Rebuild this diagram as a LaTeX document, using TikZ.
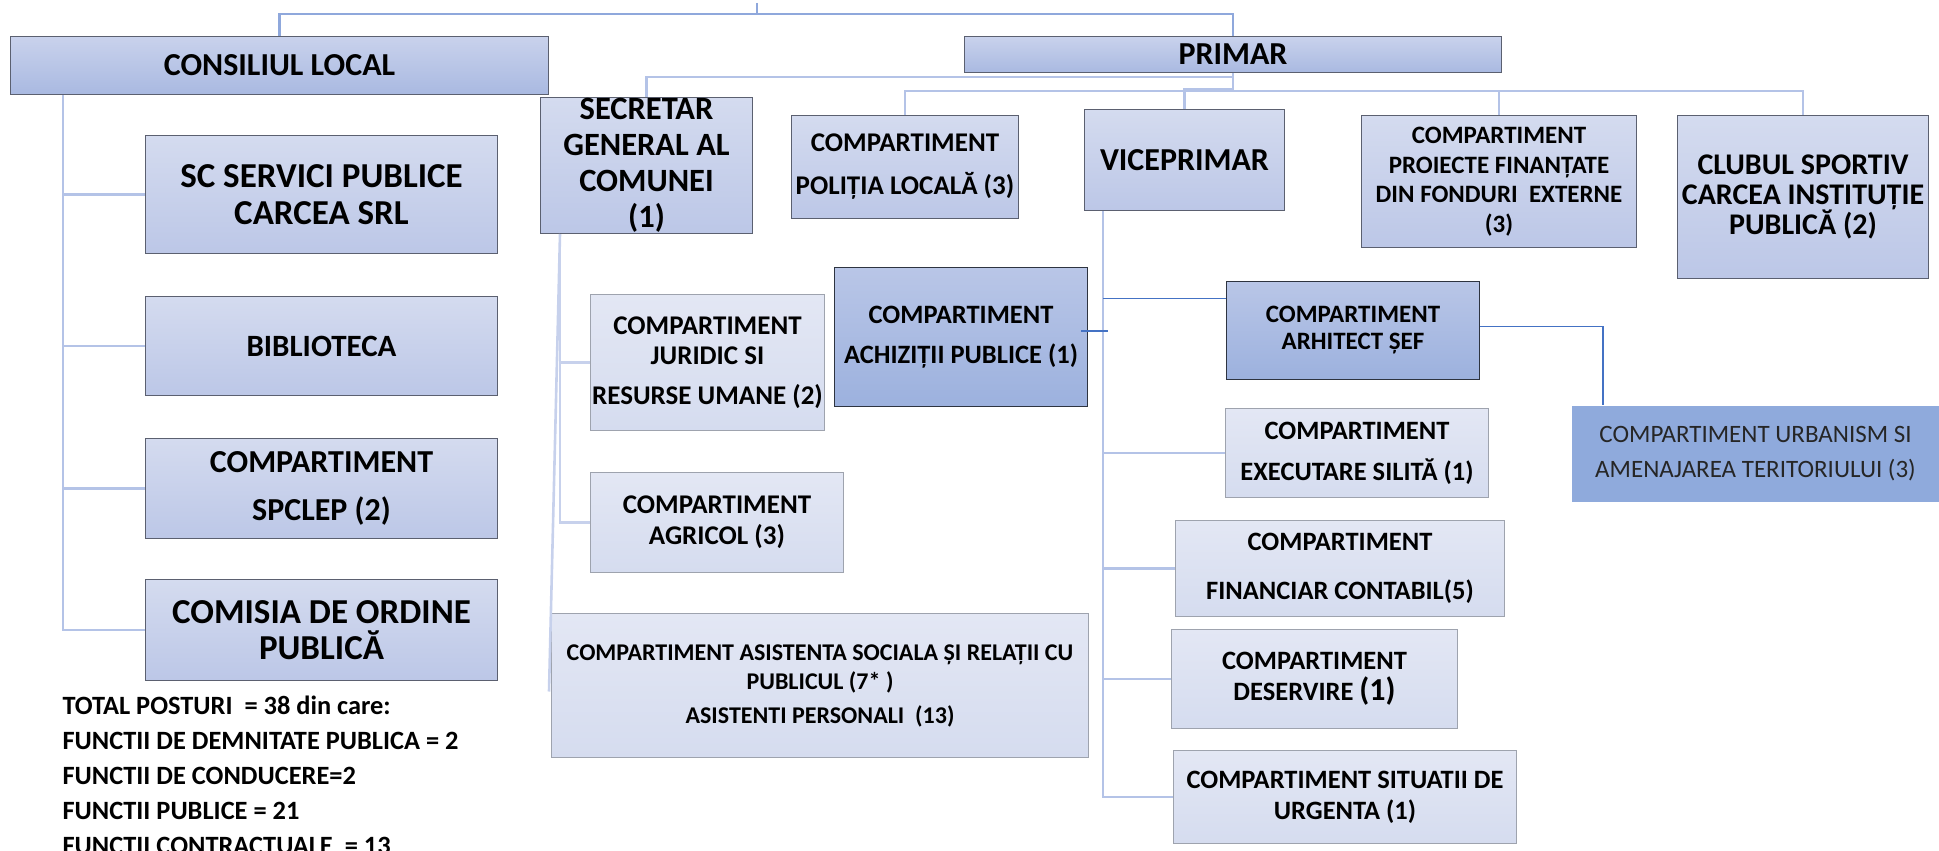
\documentclass[tikz,border=0pt]{standalone}
\usepackage{fontspec}
\setmainfont{Carlito}
\usepackage{xcolor}
\usetikzlibrary{positioning,calc}

\definecolor{headtop}{HTML}{C9D2EC}
\definecolor{headbot}{HTML}{A9B9E1}
\definecolor{midtop}{HTML}{D4DBEF}
\definecolor{midbot}{HTML}{BCC7E7}
\definecolor{paletop}{HTML}{E3E7F4}
\definecolor{palebot}{HTML}{D5DCEF}
\definecolor{deeptop}{HTML}{B9C6E7}
\definecolor{deepbot}{HTML}{9CB1DE}
\definecolor{urbfill}{HTML}{8FAADC}
\definecolor{edgedark}{HTML}{5B6070}
\definecolor{edgepale}{HTML}{9EA3AE}
\definecolor{edgedeep}{HTML}{2E3440}
\definecolor{linkblue}{HTML}{B4C3E7}
\definecolor{palelink}{HTML}{C7D1EC}
\definecolor{toplink}{HTML}{8FA8DC}
\definecolor{finelink}{HTML}{4472C4}

\tikzset{
  unit/.style={anchor=north west, inner sep=0pt, align=center, line width=1pt},
  headbox/.style={unit, draw=edgedark, top color=headtop, bottom color=headbot},
  midbox/.style={unit, draw=edgedark, top color=midtop, bottom color=midbot},
  palebox/.style={unit, draw=edgepale, top color=paletop, bottom color=palebot},
  deepbox/.style={unit, draw=edgedeep, top color=deeptop, bottom color=deepbot},
  bigtxt/.style={font=\bfseries\fontsize{32}{36}\selectfont},
  midtxt/.style={font=\bfseries\fontsize{26.5}{31}\selectfont},
  smalltxt/.style={font=\bfseries\fontsize{25}{27}\selectfont},
  link/.style={linkblue, line width=2.6pt},
  softlink/.style={palelink, line width=2.6pt},
  crown/.style={toplink, line width=2.6pt},
  fine/.style={finelink, line width=1.3pt}
}

\begin{document}
\begin{tikzpicture}[x=1pt, y=-1pt]
    \useasboundingbox (0,0) rectangle (1939,851);

    % Top level
    \node[headbox, bigtxt, minimum width=538pt, minimum height=58pt] (cons) at (10,36) {CONSILIUL LOCAL};
    \node[headbox, bigtxt, minimum width=537pt, minimum height=36pt] (primar) at (964,36) {PRIMAR};

    % Consiliul local
    \node[midbox, font=\bfseries\fontsize{35}{37}\selectfont, minimum width=352pt, minimum height=118pt] (scs) at (145,135) {SC SERVICI PUBLICE\\CARCEA SRL};
    \node[midbox, font=\bfseries\fontsize{31}{36}\selectfont, minimum width=352pt, minimum height=99pt] (bib) at (145,296) {BIBLIOTECA};
    \node[midbox, bigtxt, minimum width=352pt, minimum height=100pt] (spclep) at (145,438) {COMPARTIMENT\\[12pt]SPCLEP (2)};
    \node[midbox, font=\bfseries\fontsize{35}{36}\selectfont, minimum width=352pt, minimum height=101pt] (comisia) at (145,579) {COMISIA DE ORDINE\\PUBLICĂ};

    \node[unit, align=left, font=\bfseries\fontsize{26.4}{35.2}\selectfont] (total) at (62,695) {TOTAL POSTURI\ \ = 38 din care:\\FUNCTII DE DEMNITATE PUBLICA = 2\\FUNCTII DE CONDUCERE=2\\FUNCTII PUBLICE = 21\\FUNCTII CONTRACTUALE\ \ = 13};

    % Primar
    \node[midbox, font=\bfseries\fontsize{32.5}{36}\selectfont, minimum width=212pt, minimum height=136pt] (secr) at (540,97) {SECRETAR\\GENERAL AL\\COMUNEI\\(1)};
    \node[midbox, font=\bfseries\fontsize{27}{32}\selectfont, minimum width=227pt, minimum height=103pt] (polit) at (791,115) {COMPARTIMENT\\[11pt]POLIȚIA LOCALĂ (3)};
    \node[midbox, bigtxt, minimum width=200pt, minimum height=101pt] (vice) at (1084,109) {VICEPRIMAR};
    \node[midbox, font=\bfseries\fontsize{25}{29.5}\selectfont, minimum width=275pt, minimum height=132pt] (proj) at (1361,115) {COMPARTIMENT\\PROIECTE FINANȚATE\\DIN FONDURI\ \ EXTERNE\\(3)};
    \node[midbox, font=\bfseries\fontsize{30}{30}\selectfont, minimum width=251pt, minimum height=163pt] (clubul) at (1677,115) {CLUBUL SPORTIV\\CARCEA INSTITUȚIE\\PUBLICĂ (2)};

    % Secretar
    \node[palebox, font=\bfseries\fontsize{27}{30}\selectfont, minimum width=234pt, minimum height=136pt] (jur) at (590,294) {COMPARTIMENT\\JURIDIC SI\\[10pt]RESURSE UMANE (2)};
    \node[palebox, font=\bfseries\fontsize{27}{31}\selectfont, minimum width=253pt, minimum height=100pt] (agric) at (590,472) {COMPARTIMENT\\AGRICOL (3)};
    \node[deepbox, midtxt, minimum width=253pt, minimum height=139pt] (achiz) at (834,267) {COMPARTIMENT\\[9pt]ACHIZIȚII PUBLICE (1)};
    \node[palebox, font=\bfseries\fontsize{24}{29}\selectfont, minimum width=537pt, minimum height=144pt] (asist) at (551,613) {COMPARTIMENT ASISTENTA SOCIALA ȘI RELAȚII CU\\PUBLICUL (7* )\\[5pt]ASISTENTI PERSONALI\ \ (13)};

    % Viceprimar
    \node[deepbox, smalltxt, minimum width=253pt, minimum height=98pt] (arh) at (1226,281) {COMPARTIMENT\\ARHITECT ȘEF};
    \node[palebox, midtxt, minimum width=263pt, minimum height=89pt] (exec) at (1225,408) {COMPARTIMENT\\[10pt]EXECUTARE SILITĂ (1)};
    \node[palebox, midtxt, minimum width=329pt, minimum height=96pt] (fin) at (1175,520) {COMPARTIMENT\\[18pt]FINANCIAR CONTABIL(5)};
    \node[palebox, midtxt, minimum width=286pt, minimum height=99pt] (deserv) at (1171,629) {COMPARTIMENT\\DESERVIRE {\fontsize{32}{36}\selectfont(1)}};
    \node[palebox, midtxt, minimum width=343pt, minimum height=93pt] (situ) at (1173,750) {COMPARTIMENT SITUATII DE\\URGENTA (1)};
    \node[unit, fill=urbfill, text=black!85, font=\fontsize{25}{35}\selectfont, minimum width=368pt, minimum height=96pt] (urb) at (1571,405) {COMPARTIMENT URBANISM SI\\AMENAJAREA TERITORIULUI (3)};

    % Links from the top
    \draw[crown] (cons.north) -- ++(0,-22) -| (primar.north);
    \coordinate (mark) at (757,3);
    \draw[crown] (mark) -- ++(0,11);

    % Primar bus
    \draw[link] (primar.south) -- ++(0,4) -| (secr.north);
    \draw[link] (primar.south) -- ++(0,18) coordinate (pbus);
    \draw[link] (polit.north) |- (pbus) -| (clubul.north);
    \draw[link] (proj.north) -- (proj.north |- pbus);
    \draw[link] (vice.north) |- ([yshift=2pt]pbus);

    % Consiliul spine
    \coordinate (lspine) at ([xshift=53pt]cons.south west);
    \draw[link] (lspine) |- (comisia.west);
    \foreach \n in {scs,bib,spclep}
        \draw[link] (lspine |- \n.west) -- (\n.west);

    % Secretar spine
    \coordinate (sspine) at ([xshift=20pt]secr.south west);
    \draw[softlink] (sspine) |- (agric.west);
    \draw[softlink] (sspine |- jur.west) -- (jur.west);
    \draw[softlink] (sspine) -- ([xshift=-2pt,yshift=-6pt]asist.west);

    % Viceprimar spine
    \coordinate (vspine) at ([xshift=19pt]vice.south west);
    \draw[link] (vspine) |- (situ.west);
    \foreach \n in {exec,fin,deserv}
        \draw[link] (vspine |- \n.west) -- (\n.west);

    % Thin links
    \coordinate (arhin) at ([yshift=32pt]arh.west);
    \draw[fine] (arhin) -- (arhin -| vspine);
    \coordinate (achout) at ([xshift=-7pt,yshift=6pt]achiz.east);
    \draw[fine] (achout) -- ++(27,0);
    \draw[fine] ([yshift=4pt]arh.east) -| ([xshift=32pt]urb.north west);
\end{tikzpicture}
\end{document}
